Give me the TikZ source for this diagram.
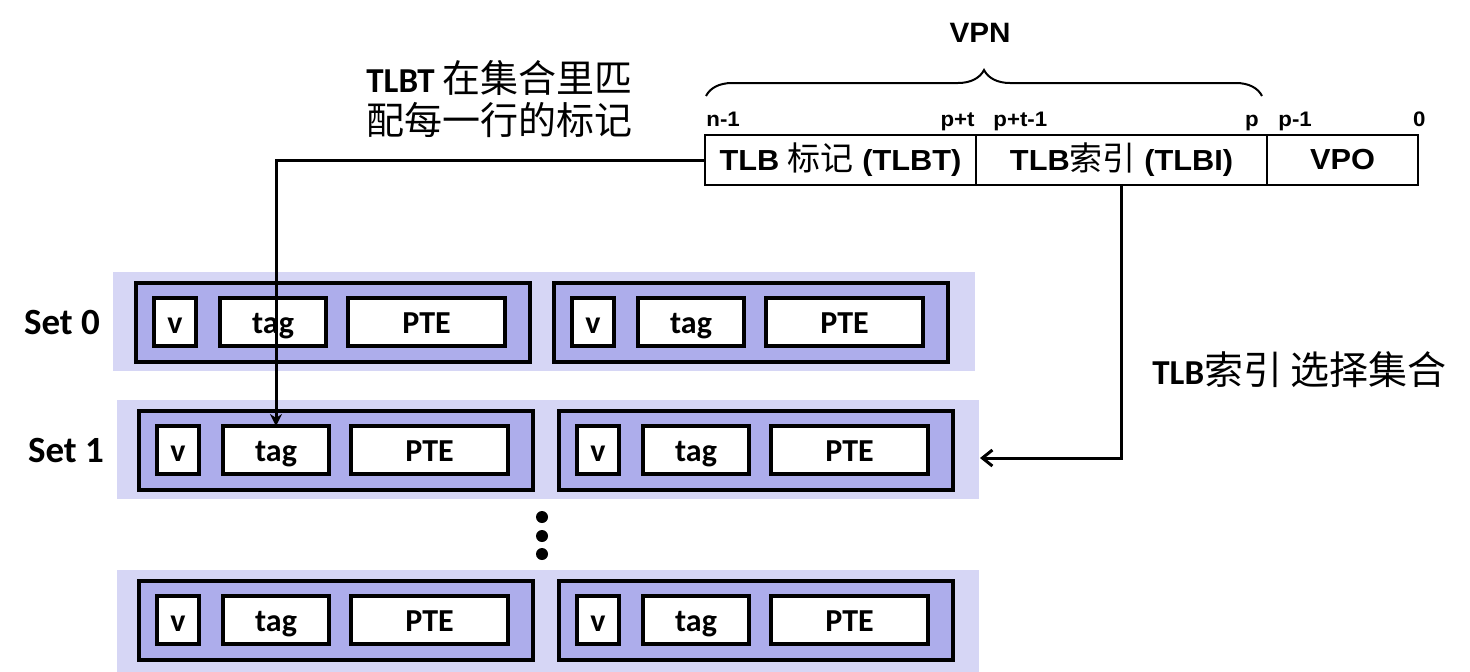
\documentclass[tikz,border=0pt]{standalone}
\usepackage{fontspec}
\setmainfont{Carlito}
\newfontfamily\narrowfont[FakeStretch=1.06]{Liberation Sans}
\newfontfamily\cjk{Noto Sans CJK SC}
\newcommand\zh[1]{{\cjk\mdseries #1}}
\usetikzlibrary{calc,arrows.meta,decorations.pathreplacing}
\definecolor{bgc}{RGB}{214,214,245}
\definecolor{rowc}{RGB}{173,173,235}
\newcommand\tlbrow[3]{%
  \node[rowbox] (#1) at (#2,#3) {};
  \node[cellbox,minimum width=21pt] (#1-v) at ($(#1.north west)+(39,39)$) {v};
  \node[cellbox,minimum width=53pt] (#1-tag) at ($(#1.north west)+(137,39)$) {tag};
  \node[cellbox,minimum width=78.5pt] (#1-pte) at ($(#1.north west)+(290.5,39)$) {PTE};
}
\begin{document}
\begin{tikzpicture}[x=0.5pt,y=-0.5pt,
  bgbox/.style={fill=bgc,draw=none,anchor=north west,inner sep=0pt,outer sep=0pt,minimum width=431pt},
  rowbox/.style={draw=black,fill=rowc,line width=2pt,anchor=north west,inner sep=0pt,outer sep=0pt,minimum width=197pt,minimum height=39.5pt},
  cellbox/.style={draw=black,fill=white,line width=2pt,inner sep=0pt,outer sep=0pt,minimum height=24pt,text height=11pt,text depth=0pt,font=\bfseries\fontsize{16}{18}\selectfont},
  setlabel/.style={font=\bfseries\fontsize{18.5}{20}\selectfont,inner sep=0pt},
  fieldbox/.style={draw=black,line width=1.2pt,inner sep=0pt,outer sep=0pt,minimum height=25pt,font=\narrowfont\bfseries\fontsize{14.5}{18}\selectfont},
  bitlabel/.style={inner sep=0pt,font=\narrowfont\bfseries\fontsize{10.5}{12}\selectfont},
  note/.style={inner sep=0pt,anchor=base west,font=\bfseries\fontsize{17.5}{22}\selectfont},
  conn/.style={draw=black,line width=1.5pt},
  dot/.style={circle,fill=black,inner sep=0pt,minimum size=6pt}
]
\useasboundingbox (0,0) rectangle (1470,671);
% set backgrounds
\node[bgbox,minimum height=49.5pt] (bg0) at (113,272) {};
\node[bgbox,minimum height=49.5pt] (bg1) at (117,400) {};
\node[bgbox,minimum height=52pt] (bg2) at (117,570) {};
% rows
\tlbrow{s0a}{136}{283}
\tlbrow{s0b}{554}{283}
\tlbrow{s1a}{139}{411}
\tlbrow{s1b}{559}{411}
\tlbrow{s2a}{139}{581}
\tlbrow{s2b}{559}{581}
% set labels
\node[setlabel] (set0) at (62,322) {Set 0};
\node[setlabel] (set1) at (66,450) {Set 1};
% dots
\node[dot] (d1) at (542,517) {};
\node[dot] (d2) at (542,536) {};
\node[dot] (d3) at (542,554) {};
% address fields
\node[fieldbox,minimum width=135.5pt] (tlbt) at (840.5,160) {TLB {\cjk\mdseries\fontsize{16.5}{18}\selectfont 标记} (TLBT)};
\node[fieldbox,minimum width=145.5pt] (tlbi) at (1121.5,160) {TLB{\cjk\mdseries\fontsize{16.5}{18}\selectfont 索引} (TLBI)};
\node[fieldbox,minimum width=75.5pt] (vpo) at (1342.5,160) {VPO};
% bit labels
\node[bitlabel,anchor=base west] (bn1) at (706,126) {n-1};
\node[bitlabel,anchor=base east] (bpt) at (975,126) {p+t};
\node[bitlabel,anchor=base west] (bpt1) at (993,126) {p+t-1};
\node[bitlabel,anchor=base east] (bp) at (1259,126) {p};
\node[bitlabel,anchor=base west] (bp1) at (1278,126) {p-1};
\node[bitlabel,anchor=base east] (b0) at (1426,126) {0};
% brace and VPN
\coordinate (brl) at (706,96);
\coordinate (brr) at (1262,96);
\draw[decorate,decoration={brace,amplitude=13pt},line width=1pt] (brl) -- (brr);
\node[inner sep=0pt,anchor=base,font=\narrowfont\bfseries\fontsize{14}{16}\selectfont] (vpn) at (980,42) {VPN};
% notes
\node[note] (note1a) at (366,92) {TLBT \zh{\fontsize{19}{22}\selectfont 在集合里匹}};
\node[note] (note1b) at (366,134) {\zh{\fontsize{19}{22}\selectfont 配每一行的标记}};
\node[note] (note2) at (1152,384) {TLB\zh{\fontsize{19.5}{22}\selectfont 索引 选择集合}};
% connectors
\coordinate (selpt) at (980,458);
\draw[conn,-{Stealth[length=6pt,width=6pt]}] (tlbt.west) -| (s1a-tag.north);
\draw[conn,-{Straight Barb[length=5pt,width=8pt]}] (tlbi.south) |- (selpt);
\end{tikzpicture}
\end{document}
